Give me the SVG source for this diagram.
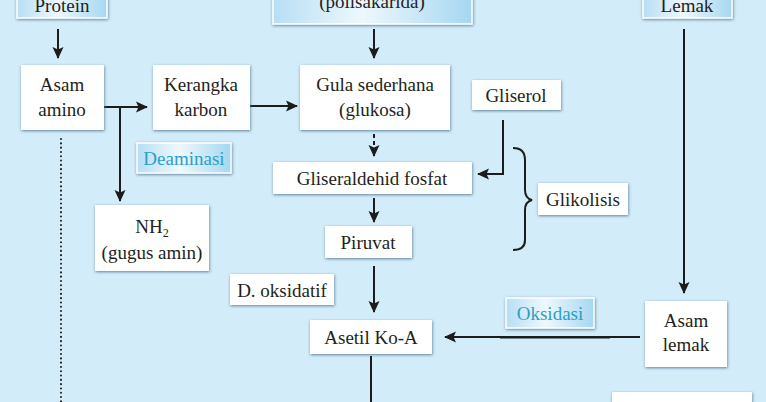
<svg xmlns="http://www.w3.org/2000/svg" width="766" height="402" viewBox="0 0 766 402">
<defs>
<linearGradient id="gb" x1="0" y1="0" x2="1" y2="0">
<stop offset="0" stop-color="#b7def4"/>
<stop offset="0.45" stop-color="#eef8fd"/>
<stop offset="1" stop-color="#a6d7f1"/>
</linearGradient>
<filter id="sh" x="-20%" y="-30%" width="140%" height="160%">
<feDropShadow dx="0.5" dy="1" stdDeviation="1.6" flood-color="#4f7590" flood-opacity="0.9"/>
</filter>
<marker id="ah" markerUnits="userSpaceOnUse" markerWidth="12" markerHeight="12" viewBox="0 0 12 12" refX="11" refY="6" orient="auto">
<path d="M0,0.5 L12,6 L0,11.5 L2.5,6 Z" fill="#1c1c1c"/>
</marker>
<style>
.bx{fill:#ffffff;filter:url(#sh)}
.gb{fill:url(#gb);stroke:#ffffff;stroke-width:1.5;filter:url(#sh)}
.t{font-family:'Liberation Serif','DejaVu Serif',serif;font-size:19px;fill:#231f20;text-anchor:middle}
.c{fill:#2a9fc9}
.ln{fill:none;stroke:#1c1c1c;stroke-width:2}
.ar{marker-end:url(#ah)}
</style>
</defs>
<rect width="766" height="402" fill="#d3ecf9"/>

<g id="connectors">
<path class="ln ar" d="M58,29 V58"/>
<path class="ln ar" d="M374,29 V58"/>
<path class="ln ar" d="M104,107 H147"/>
<path class="ln ar" d="M120,107 V201"/>
<path class="ln ar" d="M250,106 H297"/>
<path class="ln ar" d="M374,134 V156" stroke-dasharray="4,3"/>
<path class="ln ar" d="M503,120 V174 H478"/>
<path class="ln ar" d="M374,198 V222"/>
<path class="ln ar" d="M374,266 V312"/>
<path class="ln" d="M371,356 V402"/>
<path class="ln ar" d="M684,29 V293"/>
<path class="ln ar" d="M640,337 H445"/>
<path class="ln" d="M500,337.5 H610" stroke-width="3"/>
<path class="ln" d="M61,139 V402" stroke-width="1.6" stroke-dasharray="0.1,4.2" stroke-linecap="round"/>
<path class="ln" stroke-width="1.3" d="M513,148 C521,148 525,152 525,160 V190 C525,196 528,199 532,200 C528,201 525,204 525,210 V240 C525,247 521,250 513,250"/>
</g>

<g id="protein">
<rect class="gb" x="17" y="-6" width="90" height="24"/>
<text class="t" x="62" y="12">Protein</text>
</g>
<g id="polisakarida">
<rect class="gb" x="273" y="-6" width="199" height="30"/>
<text class="t" x="372" y="8">(polisakarida)</text>
</g>
<g id="lemak">
<rect class="gb" x="643" y="-6" width="89" height="24"/>
<text class="t" x="687" y="12">Lemak</text>
</g>
<g id="asam-amino">
<rect class="bx" x="21" y="65" width="83" height="65"/>
<text class="t" x="62" y="91">Asam</text>
<text class="t" x="62" y="116">amino</text>
</g>
<g id="kerangka-karbon">
<rect class="bx" x="153" y="65" width="97" height="65"/>
<text class="t" x="201" y="91">Kerangka</text>
<text class="t" x="201" y="116">karbon</text>
</g>
<g id="gula-sederhana">
<rect class="bx" x="300" y="65" width="150" height="65"/>
<text class="t" x="375" y="91">Gula sederhana</text>
<text class="t" x="375" y="116">(glukosa)</text>
</g>
<g id="gliserol">
<rect class="bx" x="472" y="80" width="89" height="30"/>
<text class="t" x="516" y="102">Gliserol</text>
</g>
<g id="deaminasi">
<rect class="gb" x="137" y="143" width="94" height="30"/>
<text class="t c" x="184" y="165">Deaminasi</text>
</g>
<g id="gliseraldehid-fosfat">
<rect class="bx" x="273" y="162" width="199" height="32"/>
<text class="t" x="372" y="185">Gliseraldehid fosfat</text>
</g>
<g id="glikolisis">
<rect class="bx" x="538" y="183" width="90" height="32"/>
<text class="t" x="583" y="206">Glikolisis</text>
</g>
<g id="nh2">
<rect class="bx" x="95" y="205" width="114" height="66"/>
<text class="t" x="152" y="233">NH<tspan font-size="12" dy="4">2</tspan></text>
<text class="t" x="152" y="259">(gugus amin)</text>
</g>
<g id="piruvat">
<rect class="bx" x="325" y="226" width="87" height="32"/>
<text class="t" x="368" y="249">Piruvat</text>
</g>
<g id="d-oksidatif">
<rect class="bx" x="230" y="274" width="104" height="31"/>
<text class="t" x="282" y="297">D. oksidatif</text>
</g>
<g id="oksidasi">
<rect class="gb" x="506" y="298" width="88" height="30"/>
<text class="t c" x="550" y="320">Oksidasi</text>
</g>
<g id="asetil-ko-a">
<rect class="bx" x="310" y="320" width="122" height="34"/>
<text class="t" x="371" y="344">Asetil Ko-A</text>
</g>
<g id="asam-lemak">
<rect class="bx" x="645" y="301" width="82" height="66"/>
<text class="t" x="686" y="327">Asam</text>
<text class="t" x="686" y="351">lemak</text>
</g>
<g id="bottom-box">
<rect class="bx" x="612" y="392" width="140" height="20"/>
</g>
</svg>
